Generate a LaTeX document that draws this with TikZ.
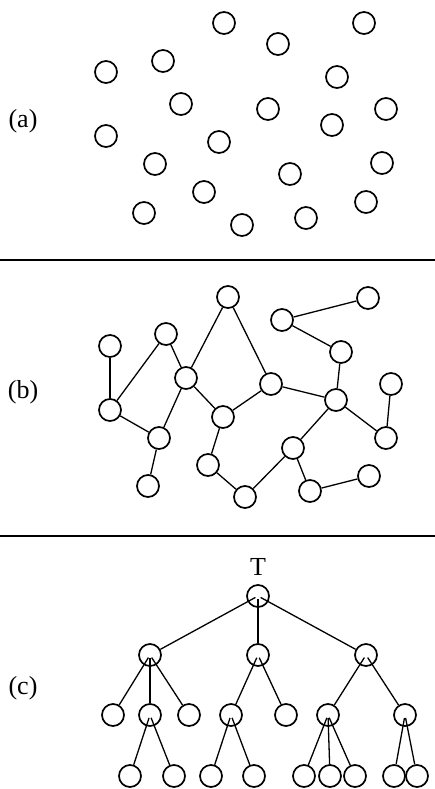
\documentclass[tikz,border=0pt]{standalone}
\usepackage{fontspec}
\setmainfont{Liberation Serif}
\usepackage{tikz}
\newcommand{\tagfont}{\fontsize{26}{30}\selectfont}
\tikzset{
    vertex/.style={
        circle, draw=black, line width=1.7pt,
        minimum size=22pt, inner sep=0pt,
        fill=white,
    },
    link/.style={line width=1.3pt},
    tag/.style={
        anchor=center, inner sep=0pt,
        font=\tagfont,
    },
}
\begin{document}
\begin{tikzpicture}[x=1pt, y=-1pt]
        \useasboundingbox (0,0) rectangle (435,789);

        % separators
        \coordinate (s1l) at(0,260);
        \coordinate (s1r) at(435,260);
        \coordinate (s2l) at(0,536);
        \coordinate (s2r) at(435,536);
        \draw[line width=1.6pt] (s1l) -- (s1r);
        \draw[line width=1.6pt] (s2l) -- (s2r);

        % (a) isolated nodes
        \node (la) at(23,121) [tag] {(a)};
        \node (a1) at(224,23) [vertex] {};
        \node (a2) at(364,23) [vertex] {};
        \node (a3) at(278,44) [vertex] {};
        \node (a4) at(163,61) [vertex] {};
        \node (a5) at(106,72) [vertex] {};
        \node (a6) at(337,77) [vertex] {};
        \node (a7) at(181,104) [vertex] {};
        \node (a8) at(268,109) [vertex] {};
        \node (a9) at(386,109) [vertex] {};
        \node (a10) at(332,125) [vertex] {};
        \node (a11) at(106,136) [vertex] {};
        \node (a12) at(219,142) [vertex] {};
        \node (a13) at(155,164) [vertex] {};
        \node (a14) at(382,163) [vertex] {};
        \node (a15) at(290,174) [vertex] {};
        \node (a16) at(204,192) [vertex] {};
        \node (a17) at(366,202) [vertex] {};
        \node (a18) at(144,213) [vertex] {};
        \node (a19) at(242,225) [vertex] {};
        \node (a20) at(306,218) [vertex] {};

        % (b) graph
        \node (lb) at(23,392) [tag] {(b)};
        \node (b1) at(228,297) [vertex] {};
        \node (b2) at(368,298) [vertex] {};
        \node (b3) at(282,320) [vertex] {};
        \node (b4) at(166,334) [vertex] {};
        \node (b5) at(110,346) [vertex] {};
        \node (b6) at(341,352) [vertex] {};
        \node (b7) at(186,378) [vertex] {};
        \node (b8) at(271,384) [vertex] {};
        \node (b9) at(391,384) [vertex] {};
        \node (b10) at(336,400) [vertex] {};
        \node (b11) at(110,410) [vertex] {};
        \node (b12) at(223,417) [vertex] {};
        \node (b13) at(159,438) [vertex] {};
        \node (b14) at(386,438) [vertex] {};
        \node (b15) at(293,448) [vertex] {};
        \node (b16) at(208,465) [vertex] {};
        \node (b17) at(369,476) [vertex] {};
        \node (b18) at(148,486) [vertex] {};
        \node (b19) at(245,497) [vertex] {};
        \node (b20) at(310,491) [vertex] {};

        \draw[link] (b1) -- (b7);
        \draw[link] (b1) -- (b8);
        \draw[link] (b3) -- (b2);
        \draw[link] (b3) -- (b6);
        \draw[link] (b6) -- (b10);
        \draw[link] (b8) -- (b10);
        \draw[link] (b9) -- (b14);
        \draw[link] (b10) -- (b14);
        \draw[link] (b10) -- (b15);
        \draw[link] (b15) -- (b19);
        \draw[link] (b15) -- (b20);
        \draw[link] (b20) -- (b17);
        \draw[link] (b19) -- (b16);
        \draw[link] (b16) -- (b12);
        \draw[link] (b12) -- (b7);
        \draw[link] (b12) -- (b8);
        \draw[link] (b7) -- (b4);
        \draw[link] (b7) -- (b13);
        \draw[link] (b4) -- (b11);
        \draw[link] (b5) -- (b11);
        \draw[link] (b11) -- (b13);
        \draw[link] (b13) -- (b18);

        % (c) tree
        \node (lc) at(23,688) [tag] {(c)};
        \node (root) at(258,596) [vertex] {};
        \node (tl) at(258,567) [tag] {T};

        \node (c1) at(150,655) [vertex] {};
        \node (c2) at(258,655) [vertex] {};
        \node (c3) at(366,655) [vertex] {};

        \node (c11) at(113,715) [vertex] {};
        \node (c12) at(150,715) [vertex] {};
        \node (c13) at(189,715) [vertex] {};
        \node (c21) at(231,715) [vertex] {};
        \node (c22) at(286,715) [vertex] {};
        \node (c31) at(328,715) [vertex] {};
        \node (c32) at(405,715) [vertex] {};

        \node (c121) at(130,776) [vertex] {};
        \node (c122) at(174,776) [vertex] {};
        \node (c211) at(211,776) [vertex] {};
        \node (c212) at(254,776) [vertex] {};
        \node (c311) at(304,776) [vertex] {};
        \node (c312) at(330,776) [vertex] {};
        \node (c313) at(355,776) [vertex] {};
        \node (c321) at(394,776) [vertex] {};
        \node (c322) at(417,776) [vertex] {};

        \begin{scope}[link, shorten <=3pt]
            \draw (root.center) -- (c1);
            \draw (root.center) -- (c2);
            \draw (root.center) -- (c3);
            \draw (c1.center) -- (c11);
            \draw (c1.center) -- (c12);
            \draw (c1.center) -- (c13);
            \draw (c2.center) -- (c21);
            \draw (c2.center) -- (c22);
            \draw (c3.center) -- (c31);
            \draw (c3.center) -- (c32);
            \draw (c12.center) -- (c121);
            \draw (c12.center) -- (c122);
            \draw (c21.center) -- (c211);
            \draw (c21.center) -- (c212);
            \draw (c31.center) -- (c311);
            \draw (c31.center) -- (c312);
            \draw (c31.center) -- (c313);
            \draw (c32.center) -- (c321);
            \draw (c32.center) -- (c322);
        \end{scope}
    \end{tikzpicture}
\end{document}
